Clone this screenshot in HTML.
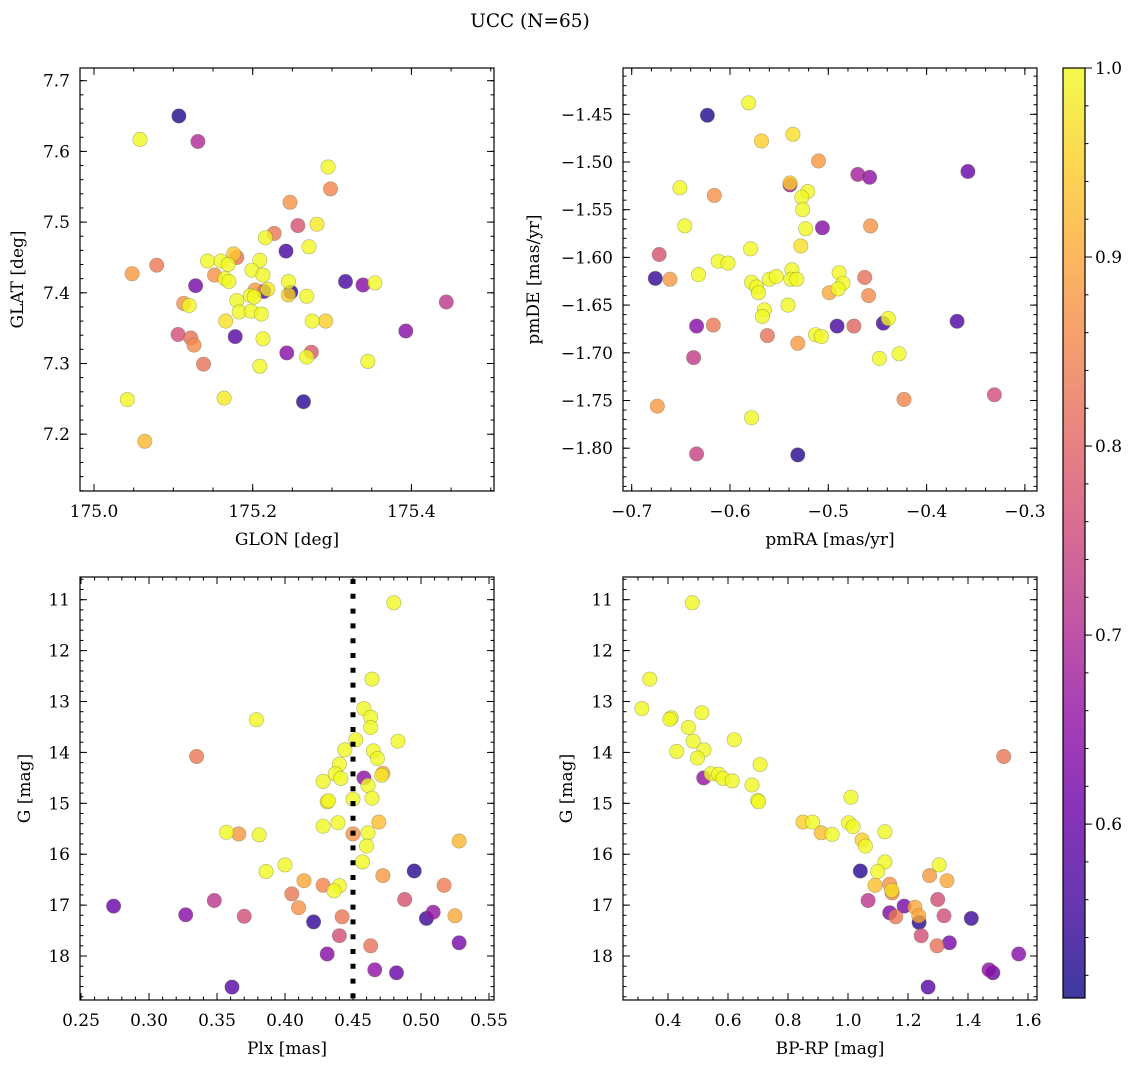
<!DOCTYPE html>
<html><head><meta charset="utf-8"><title>UCC (N=65)</title>
<style>
html,body{margin:0;padding:0;background:#fff;}
svg{display:block;font-family:"DejaVu Serif","Liberation Serif",serif;}
</style></head>
<body>
<svg id="fig" width="1136" height="1067" viewBox="0 0 1136 1067" xmlns="http://www.w3.org/2000/svg">
<text x="530" y="27" font-size="18.5" text-anchor="middle" fill="#000">UCC (N=65)</text>
</svg>
<script>
// ---------- Panel 1: GLON vs GLAT ----------
const p1_glon=[175.107,175.058,175.131,175.295,175.298,175.247,175.257,175.281,175.227,175.216,175.242,175.271,175.143,175.160,175.180,175.176,175.169,175.209,175.199,175.213,175.079,175.048,175.152,175.165,175.170,175.245,175.317,175.339,175.354,175.128,175.214,175.203,175.219,175.248,175.245,175.197,175.202,175.268,175.180,175.113,175.120,175.183,175.198,175.211,175.166,175.275,175.292,175.106,175.178,175.122,175.126,175.213,175.243,175.274,175.268,175.138,175.209,175.393,175.444,175.345,175.042,175.164,175.264,175.064];
const p1_glat=[7.650,7.617,7.614,7.578,7.547,7.528,7.495,7.497,7.484,7.478,7.459,7.465,7.445,7.445,7.450,7.455,7.440,7.446,7.432,7.425,7.439,7.427,7.425,7.420,7.416,7.416,7.416,7.411,7.414,7.410,7.402,7.404,7.405,7.401,7.397,7.396,7.394,7.395,7.389,7.385,7.382,7.373,7.374,7.370,7.360,7.360,7.360,7.341,7.338,7.336,7.326,7.335,7.315,7.316,7.309,7.299,7.296,7.346,7.387,7.303,7.249,7.251,7.246,7.190];
const p1_prob=[0.52,1.0,0.70,1.0,0.85,0.87,0.77,0.98,0.83,1.0,0.56,1.0,1.0,1.0,0.82,0.94,1.0,1.0,1.0,1.0,0.83,0.88,0.87,1.0,1.0,1.0,0.56,0.64,1.0,0.62,0.56,0.88,0.98,0.53,0.95,1.0,1.0,1.0,1.0,0.87,1.0,1.0,1.0,1.0,0.97,1.0,0.95,0.76,0.58,0.82,0.86,1.0,0.64,0.78,1.0,0.82,1.0,0.64,0.72,1.0,1.0,0.98,0.53,0.92];

// ---------- Panel 2: pmRA vs pmDE ----------
const p2_pmra=[-0.581,-0.623,-0.568,-0.536,-0.510,-0.470,-0.458,-0.358,-0.539,-0.539,-0.651,-0.616,-0.521,-0.527,-0.526,-0.646,-0.523,-0.506,-0.457,-0.528,-0.579,-0.672,-0.612,-0.602,-0.632,-0.676,-0.661,-0.537,-0.560,-0.553,-0.538,-0.532,-0.578,-0.573,-0.571,-0.489,-0.485,-0.490,-0.499,-0.463,-0.459,-0.541,-0.565,-0.567,-0.634,-0.617,-0.562,-0.491,-0.474,-0.444,-0.439,-0.369,-0.513,-0.507,-0.531,-0.448,-0.428,-0.637,-0.674,-0.578,-0.423,-0.331,-0.634,-0.531];
const p2_pmde=[-1.438,-1.451,-1.478,-1.471,-1.499,-1.513,-1.516,-1.510,-1.524,-1.522,-1.527,-1.535,-1.531,-1.537,-1.550,-1.567,-1.570,-1.569,-1.567,-1.588,-1.591,-1.597,-1.604,-1.606,-1.618,-1.622,-1.623,-1.613,-1.623,-1.620,-1.623,-1.623,-1.626,-1.631,-1.637,-1.616,-1.627,-1.633,-1.637,-1.621,-1.640,-1.650,-1.655,-1.662,-1.672,-1.671,-1.682,-1.672,-1.672,-1.669,-1.664,-1.667,-1.681,-1.683,-1.690,-1.706,-1.701,-1.705,-1.756,-1.768,-1.749,-1.744,-1.806,-1.807];
const p2_prob=[1.0,0.52,0.95,0.97,0.88,0.68,0.65,0.60,0.66,0.95,1.0,0.87,1.0,1.0,1.0,1.0,1.0,0.64,0.87,0.97,1.0,0.77,1.0,1.0,1.0,0.54,0.88,1.0,1.0,1.0,1.0,1.0,1.0,1.0,1.0,1.0,1.0,1.0,0.90,0.82,0.86,1.0,1.0,1.0,0.64,0.83,0.82,0.56,0.80,0.56,1.0,0.57,1.0,1.0,0.88,1.0,1.0,0.73,0.88,1.0,0.85,0.76,0.74,0.53];

// ---------- Panel 3: Plx vs G ----------
const p3_plx=[0.480,0.464,0.458,0.463,0.463,0.379,0.452,0.483,0.335,0.444,0.465,0.468,0.440,0.437,0.441,0.458,0.472,0.471,0.428,0.461,0.431,0.432,0.450,0.464,0.428,0.439,0.469,0.450,0.461,0.460,0.457,0.357,0.366,0.381,0.528,0.400,0.386,0.495,0.472,0.414,0.428,0.440,0.436,0.517,0.405,0.488,0.348,0.274,0.410,0.509,0.504,0.525,0.327,0.370,0.442,0.421,0.440,0.528,0.463,0.431,0.466,0.482,0.361];
const p3_g=[11.06,12.56,13.14,13.31,13.51,13.36,13.75,13.78,14.08,13.95,13.97,14.12,14.23,14.42,14.51,14.50,14.41,14.45,14.57,14.65,14.97,14.95,14.92,14.90,15.45,15.38,15.37,15.60,15.58,15.84,16.15,15.57,15.60,15.62,15.74,16.21,16.34,16.33,16.42,16.52,16.61,16.62,16.72,16.61,16.78,16.89,16.91,17.02,17.05,17.14,17.26,17.21,17.19,17.22,17.23,17.33,17.60,17.74,17.80,17.96,18.27,18.33,18.61];
const p3_prob=[1.0,1.0,1.0,1.0,1.0,1.0,1.0,1.0,0.83,1.0,1.0,1.0,1.0,1.0,1.0,0.65,0.90,0.98,1.0,1.0,0.97,1.0,1.0,1.0,1.0,1.0,0.93,0.87,1.0,1.0,1.0,1.0,0.88,1.0,0.92,1.0,1.0,0.53,0.88,0.90,0.85,1.0,1.0,0.84,0.83,0.77,0.72,0.60,0.87,0.66,0.55,0.90,0.64,0.76,0.83,0.54,0.76,0.62,0.82,0.64,0.65,0.60,0.58];
const p3_cut=[0.45];

// ---------- Panel 4: BP-RP vs G ----------
const p4_bprp=[0.481,0.339,0.313,0.411,0.406,0.513,0.468,0.429,0.484,0.520,0.498,0.621,0.707,0.519,0.544,0.569,0.583,0.614,0.680,0.699,0.702,1.010,0.850,0.882,0.911,0.947,1.002,1.017,1.123,1.047,1.058,1.123,1.099,1.041,1.304,1.272,1.330,1.090,1.139,1.147,1.146,1.067,1.299,1.187,1.223,1.139,1.159,1.236,1.320,1.237,1.411,1.244,1.338,1.297,1.519,1.569,1.470,1.483,1.267];
const p4_g=[11.06,12.56,13.14,13.32,13.35,13.22,13.51,13.98,13.78,13.95,14.11,13.75,14.24,14.50,14.42,14.43,14.51,14.56,14.64,14.94,14.97,14.88,15.37,15.37,15.58,15.61,15.38,15.46,15.56,15.72,15.84,16.15,16.34,16.33,16.21,16.42,16.52,16.61,16.59,16.76,16.71,16.91,16.89,17.02,17.04,17.15,17.23,17.21,17.21,17.34,17.26,17.60,17.74,17.80,14.08,17.96,18.27,18.33,18.61];
const p4_prob=[1.0,1.0,1.0,1.0,1.0,1.0,1.0,1.0,1.0,1.0,1.0,1.0,1.0,0.66,1.0,1.0,1.0,1.0,1.0,1.0,1.0,1.0,0.95,1.0,0.93,1.0,1.0,1.0,1.0,0.95,1.0,1.0,1.0,0.53,1.0,0.88,0.90,0.93,0.87,0.85,0.97,0.72,0.76,0.62,0.90,0.63,0.83,0.90,0.76,0.53,0.55,0.76,0.62,0.82,0.83,0.64,0.65,0.60,0.58];

// ---------- Colorbar ----------
const cb_min=[0.508], cb_max=[1.0];
const cb_ticks=[0.6,0.7,0.8,0.9,1.0];

const NS="http://www.w3.org/2000/svg";
const svg=document.getElementById('fig');
const FS=17;
function mk(tag,attrs,parent){const e=document.createElementNS(NS,tag);for(const k in attrs)e.setAttribute(k,attrs[k]);(parent||svg).appendChild(e);return e;}

const plasma=[[13,8,135],[65,4,157],[106,0,168],[143,13,164],[177,42,144],[204,71,120],[225,100,98],[242,132,75],[252,166,54],[252,206,37],[240,249,33]];
function cmap(p){let t=(p-cb_min[0])/(cb_max[0]-cb_min[0]);t=Math.max(0,Math.min(1,t));const f=t*10,i=Math.min(9,Math.floor(f)),r=f-i;const a=plasma[i],b=plasma[i+1];return 'rgb('+[0,1,2].map(k=>Math.round(a[k]+(b[k]-a[k])*r)).join(',')+')';}

function makeAxis(box,xdom,ydom){
  const sx=v=>box.x0+(v-xdom[0])/(xdom[1]-xdom[0])*(box.x1-box.x0);
  const sy=v=>box.y1-(v-ydom[0])/(ydom[1]-ydom[0])*(box.y1-box.y0);
  return {sx,sy};
}
function ticks(a,b,step){const lo=Math.min(a,b),hi=Math.max(a,b);const r=[];const s=Math.ceil(lo/step-1e-6);for(let i=s;i*step<=hi+1e-9;i++)r.push(+(i*step).toFixed(6));return r;}
function fmtNum(v,d){const s=Math.abs(v).toFixed(d);return (v<-1e-9?'\u2212':'')+s;}

function drawPanel(cfg){
  const g=mk('g',{});
  
  
  const {x0,x1,y0,y1}=cfg.box;
  const ax=makeAxis(cfg.box,cfg.xdom,cfg.ydom);
  const idx=cfg.xs.map((_,i)=>i).sort((a,b)=>cfg.ps[a]-cfg.ps[b]);
  const pts=mk('g',{},g);
  
  
  idx.forEach(i=>{
    const c=mk('circle',{cx:ax.sx(cfg.xs[i]).toFixed(1),cy:ax.sy(cfg.ys[i]).toFixed(1),r:7.2,fill:cmap(cfg.ps[i]),'fill-opacity':0.8,stroke:'#6b6b40','stroke-opacity':0.5,'stroke-width':0.6},pts);
    
    
  });
  if(cfg.extra)cfg.extra(g,ax);
  const fr=mk('rect',{x:x0,y:y0,width:x1-x0,height:y1-y0,fill:'none',stroke:'#000','stroke-width':1.2},g);
  
  
  const tk=mk('g',{stroke:'#000','stroke-width':1},g);
  
  
  ticks(cfg.xdom[0],cfg.xdom[1],cfg.xminor).forEach(v=>{const x=ax.sx(v);mk('line',{x1:x,x2:x,y1:y1,y2:y1-3.5},tk);mk('line',{x1:x,x2:x,y1:y0,y2:y0+3.5},tk);});
  ticks(cfg.ydom[0],cfg.ydom[1],cfg.yminor).forEach(v=>{const y=ax.sy(v);mk('line',{x1:x0,x2:x0+3.5,y1:y,y2:y},tk);mk('line',{x1:x1,x2:x1-3.5,y1:y,y2:y},tk);});
  ticks(cfg.xdom[0],cfg.xdom[1],cfg.xmajor).forEach(v=>{const x=ax.sx(v);mk('line',{x1:x,x2:x,y1:y1,y2:y1-7},tk);mk('line',{x1:x,x2:x,y1:y0,y2:y0+7},tk);
    const t=mk('text',{x:x,y:y1+26,'font-size':FS,'text-anchor':'middle',fill:'#000'},g);t.textContent=fmtNum(v,cfg.xdec);
    
    });
  ticks(cfg.ydom[0],cfg.ydom[1],cfg.ymajor).forEach(v=>{const y=ax.sy(v);mk('line',{x1:x0,x2:x0+7,y1:y,y2:y},tk);mk('line',{x1:x1,x2:x1-7,y1:y,y2:y},tk);
    const t=mk('text',{x:x0-10,y:y+6,'font-size':FS,'text-anchor':'end',fill:'#000'},g);t.textContent=fmtNum(v,cfg.ydec);
    
    });
  const xl=mk('text',{x:(x0+x1)/2,y:y1+54,'font-size':FS,'text-anchor':'middle',fill:'#000'},g);xl.textContent=cfg.xlabel;
  
  
  const yl=mk('text',{x:0,y:0,'font-size':FS,'text-anchor':'middle',fill:'#000',transform:'translate('+cfg.ylx+','+((y0+y1)/2)+') rotate(-90)'},g);yl.textContent=cfg.ylabel;
  
  
}

drawPanel({name:'panel-glon-glat',box:{x0:80,x1:494,y0:68,y1:491},xdom:[174.98236,175.5041],ydom:[7.11966,7.71796],
  xs:p1_glon,ys:p1_glat,ps:p1_prob,xmajor:0.2,xminor:0.05,ymajor:0.1,yminor:0.02,xdec:1,ydec:1,xlabel:'GLON [deg]',ylabel:'GLAT [deg]',ylx:23});
drawPanel({name:'panel-pmra-pmde',box:{x0:623,x1:1037,y0:68,y1:491},xdom:[-0.70885,-0.28769],ydom:[-1.84486,-1.40147],
  xs:p2_pmra,ys:p2_pmde,ps:p2_prob,xmajor:0.1,xminor:0.02,ymajor:0.05,yminor:0.01,xdec:1,ydec:2,xlabel:'pmRA [mas/yr]',ylabel:'pmDE [mas/yr]',ylx:539});
drawPanel({name:'panel-plx-g',box:{x0:80,x1:494,y0:577,y1:1000},xdom:[0.24926,0.55368],ydom:[18.864,10.554],
  xs:p3_plx,ys:p3_g,ps:p3_prob,xmajor:0.05,xminor:0.01,ymajor:1,yminor:0.2,xdec:2,ydec:0,xlabel:'Plx [mas]',ylabel:'G [mag]',ylx:30,
  extra:(g,ax)=>{p3_cut.forEach(v=>{const l=mk('line',{x1:ax.sx(v),x2:ax.sx(v),y1:577,y2:1000,stroke:'#000','stroke-width':5,'stroke-dasharray':'5 9.8','stroke-dashoffset':-2},g);
    
    });}});
drawPanel({name:'panel-bprp-g',box:{x0:623,x1:1037,y0:577,y1:1000},xdom:[0.25,1.63],ydom:[18.864,10.554],
  xs:p4_bprp,ys:p4_g,ps:p4_prob,xmajor:0.2,xminor:0.05,ymajor:1,yminor:0.2,xdec:1,ydec:0,xlabel:'BP-RP [mag]',ylabel:'G [mag]',ylx:572});

(function(){
  const cx0=1063,cx1=1085,cy0=68,cy1=998;
  const defs=mk('defs',{});
  const lg=mk('linearGradient',{id:'plasmaGrad',x1:0,y1:1,x2:0,y2:0},defs);
  for(let i=0;i<=20;i++){const p=cb_min[0]+(cb_max[0]-cb_min[0])*i/20;mk('stop',{offset:(i/20),'stop-color':cmap(p)},lg);}
  const g=mk('g',{});
  
  
  mk('rect',{x:cx0,y:cy0,width:cx1-cx0,height:cy1-cy0,fill:'url(#plasmaGrad)','fill-opacity':0.8},g);
  mk('rect',{x:cx0,y:cy0,width:cx1-cx0,height:cy1-cy0,fill:'none',stroke:'#000','stroke-width':1.2},g);
  const sy=v=>cy1-(v-cb_min[0])/(cb_max[0]-cb_min[0])*(cy1-cy0);
  ticks(cb_min[0],cb_max[0],0.02).forEach(v=>{const y=sy(v);mk('line',{x1:cx1,x2:cx1+3.5,y1:y,y2:y,stroke:'#000'},g);});
  cb_ticks.forEach(v=>{const y=sy(v);mk('line',{x1:cx1,x2:cx1+7,y1:y,y2:y,stroke:'#000'},g);
    const t=mk('text',{x:cx1+10,y:y+6,'font-size':FS,fill:'#000'},g);t.textContent=v.toFixed(1);
    
    });
})();
</script>
</body></html>
